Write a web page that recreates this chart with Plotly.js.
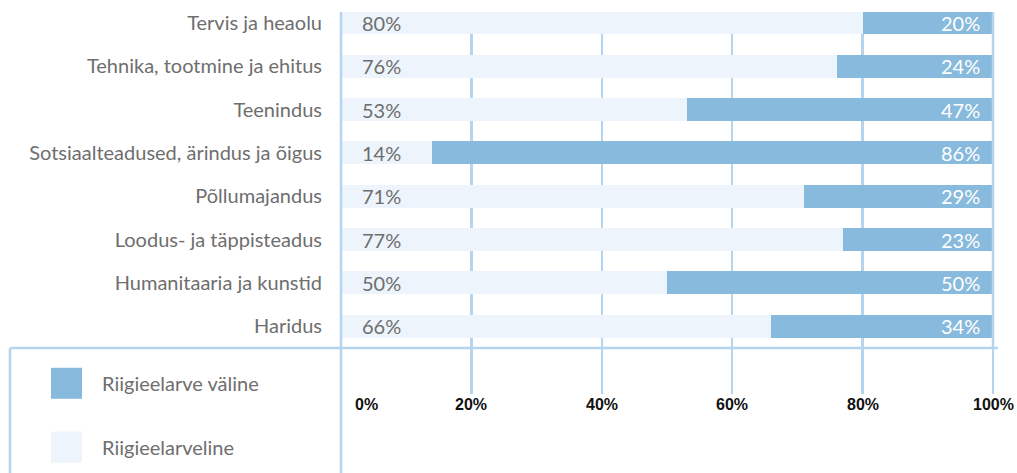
<!DOCTYPE html>
<html>
<head>
<meta charset="utf-8">
<script src="https://cdn.plot.ly/plotly-3.0.1.min.js"></script>
<style>
  html, body { margin: 0; padding: 0; background: #fff; }
  #plot { width: 1017px; height: 473px; }
</style>
</head>
<body>
<div id="plot"></div>
<script>
const categories = [
  "Tervis ja heaolu",
  "Tehnika, tootmine ja ehitus",
  "Teenindus",
  "Sotsiaalteadused, ärindus ja õigus",
  "Põllumajandus",
  "Loodus- ja täppisteadus",
  "Humanitaaria ja kunstid",
  "Haridus",
];
const riigieelarveline = [80, 76, 53, 14, 71, 77, 50, 66];
const riigieelarveValine = [20, 24, 47, 86, 29, 23, 50, 34];
const tickVals = [0, 20, 40, 60, 80, 100];
const tickLabels = ["0%", "20%", "40%", "60%", "80%", "100%"];
const legendNames = ["Riigieelarve väline", "Riigieelarveline"];

const DARK = "#88badd";
const LIGHT = "#edf4fb";
const GRID = "#b5d5ee";
const GREY = "#6e6e6e";
const FONT = "Lato, 'Noto Sans', sans-serif";

const traces = [
  {
    type: "bar",
    orientation: "h",
    y: categories,
    x: riigieelarveline,
    name: legendNames[1],
    marker: { color: LIGHT },
    hoverinfo: "skip",
  },
  {
    type: "bar",
    orientation: "h",
    y: categories,
    x: riigieelarveValine,
    name: legendNames[0],
    marker: { color: DARK },
    hoverinfo: "skip",
  },
];

// value labels inside the bars
const annotations = [];
categories.forEach((c, i) => {
  annotations.push({
    x: 0, y: c, xref: "x", yref: "y",
    text: riigieelarveline[i] + "%",
    xanchor: "left", xshift: 19,
    showarrow: false,
    font: { family: FONT, size: 20, color: GREY },
  });
  annotations.push({
    x: 100, y: c, xref: "x", yref: "y",
    text: riigieelarveValine[i] + "%",
    xanchor: "right", xshift: -11,
    showarrow: false,
    font: { family: FONT, size: 20, color: "#ffffff" },
  });
});

// x tick labels (the 0% one sits off its tick)
tickVals.forEach((v, i) => {
  annotations.push({
    x: v, y: 0, xref: "x", yref: "paper",
    yanchor: "top", yshift: -46,
    xshift: i === 0 ? 25 : 0,
    text: tickLabels[i],
    showarrow: false,
    font: { family: "'Liberation Sans', Arial, sans-serif", size: 16, color: "#111", weight: "bold" },
  });
});

// legend entries
const legendY = [-0.105, -0.295];
const legendColors = [DARK, LIGHT];
const plotW = 1017 - 341 - 24;
const plotH = 473 - 12 - 125;
const shapes = [];
legendNames.forEach((name, i) => {
  shapes.push({
    type: "rect", xref: "paper", yref: "paper",
    x0: (51 - 341) / plotW, x1: (82 - 341) / plotW,
    y0: legendY[i] - 15.5 / plotH, y1: legendY[i] + 15.5 / plotH,
    fillcolor: legendColors[i], line: { width: 0 },
  });
  annotations.push({
    x: (100 - 341) / plotW, y: legendY[i], xref: "paper", yref: "paper",
    xanchor: "left", yanchor: "middle",
    text: name, showarrow: false,
    font: { family: FONT, size: 20, color: GREY },
  });
});

// frame lines: baseline under the bars, 0%/100% edges and the legend box sides
const frame = { color: GRID, width: 2.5 };
shapes.push(
  { type: "line", xref: "paper", yref: "paper", x0: (10 - 341) / plotW, x1: (998 - 341) / plotW, y0: 0, y1: 0, line: frame },
  { type: "line", xref: "paper", yref: "paper", x0: (10 - 341) / plotW, x1: (10 - 341) / plotW, y0: 0, y1: -125 / plotH, line: frame },
  { type: "line", xref: "paper", yref: "paper", x0: 0, x1: 0, y0: 1, y1: -125 / plotH, line: frame },
  { type: "line", xref: "paper", yref: "paper", x0: 1, x1: 1, y0: 1, y1: 0, line: frame }
);

const layout = {
  width: 1017,
  height: 473,
  margin: { l: 341, r: 24, t: 12, b: 125, pad: 0 },
  paper_bgcolor: "#ffffff",
  plot_bgcolor: "#ffffff",
  barmode: "stack",
  bargap: 0.47,
  showlegend: false,
  xaxis: {
    range: [0, 100],
    tickvals: tickVals,
    showticklabels: false,
    showgrid: true,
    gridcolor: GRID,
    gridwidth: 2.5,
    zeroline: false,
    ticks: "outside",
    ticklen: 45,
    tickwidth: 2.5,
    tickcolor: GRID,
    fixedrange: true,
  },
  yaxis: {
    type: "category",
    categoryorder: "array",
    categoryarray: categories,
    range: [7.5, -0.25],
    showgrid: false,
    zeroline: false,
    showline: false,
    ticks: "outside",
    ticklen: 14,
    tickcolor: "rgba(0,0,0,0)",
    tickfont: { family: FONT, size: 20, color: GREY },
    fixedrange: true,
  },
  annotations,
  shapes,
};

Plotly.newPlot("plot", traces, layout, { displayModeBar: false, staticPlot: true });
</script>
</body>
</html>
